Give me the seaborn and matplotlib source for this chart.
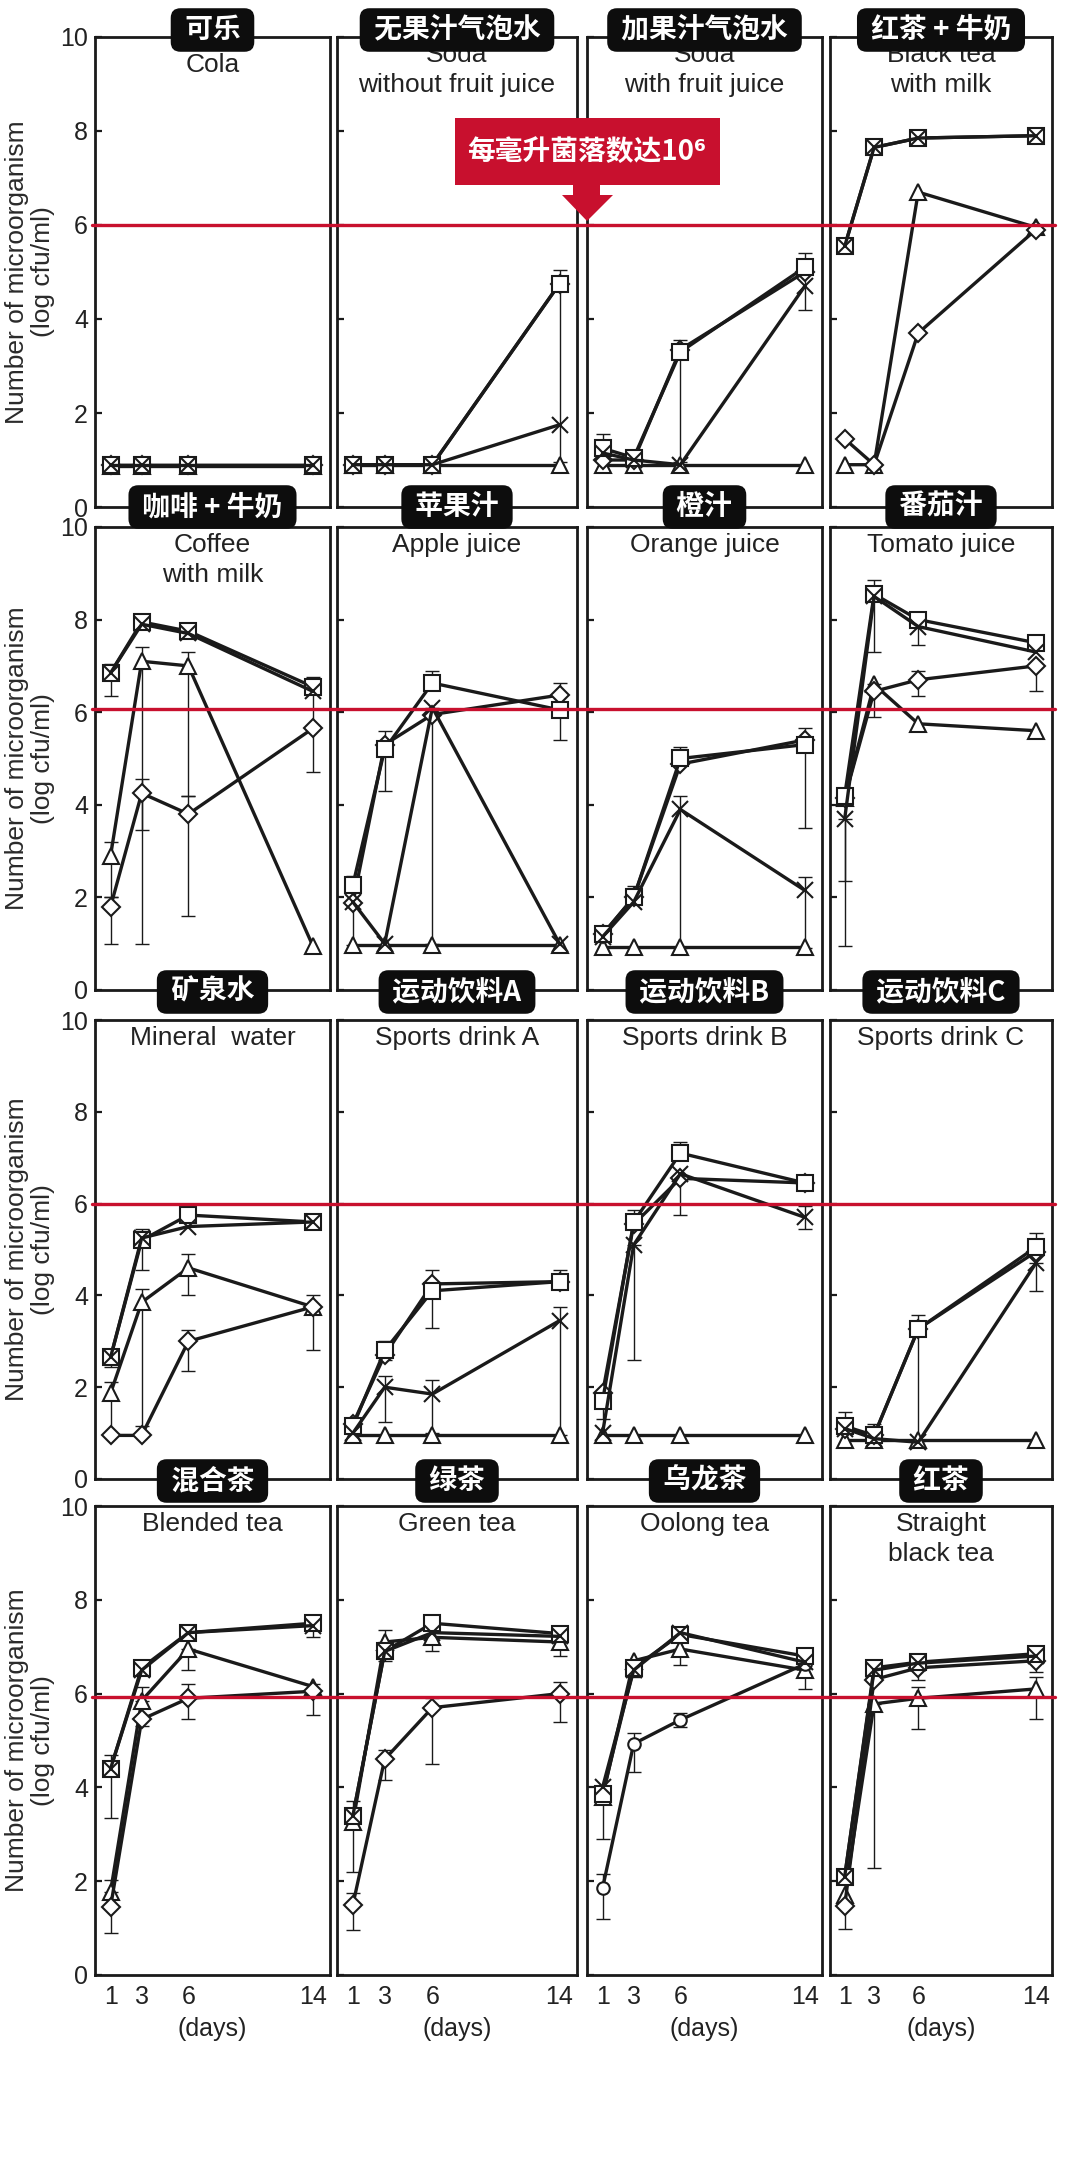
import numpy as np
import pandas as pd
import matplotlib.pyplot as plt
import matplotlib.patches as mpatches
import matplotlib.transforms as mtransforms
import seaborn as sns

# ---- data ----
days = [1, 3, 6, 14]

cn_titles = ['可乐', '无果汁气泡水', '加果汁气泡水', '红茶 + 牛奶',
             '咖啡 + 牛奶', '苹果汁', '橙汁', '番茄汁',
             '矿泉水', '运动饮料A', '运动饮料B', '运动饮料C',
             '混合茶', '绿茶', '乌龙茶', '红茶']
en_titles = ['Cola', 'Soda\nwithout fruit juice', 'Soda\nwith fruit juice', 'Black tea\nwith milk',
             'Coffee\nwith milk', 'Apple juice', 'Orange juice', 'Tomato juice',
             'Mineral  water', 'Sports drink A', 'Sports drink B', 'Sports drink C',
             'Blended tea', 'Green tea', 'Oolong tea', 'Straight\nblack tea']

square_vals = [
    [0.9, 0.9, 0.9, 0.9], [0.9, 0.9, 0.9, 4.75], [1.25, 1.05, 3.3, 5.1], [5.55, 7.65, 7.85, 7.9],
    [6.85, 7.95, 7.75, 6.55], [2.27, 5.2, 6.63, 6.05], [1.2, 2.0, 5.0, 5.3], [4.2, 8.55, 8.0, 7.5],
    [2.65, 5.2, 5.75, 5.6], [1.15, 2.8, 4.1, 4.3], [1.7, 5.6, 7.1, 6.45], [1.15, 0.95, 3.27, 5.05],
    [4.4, 6.55, 7.3, 7.5], [3.4, 6.9, 7.5, 7.28], [3.85, 6.55, 7.26, 6.8], [2.1, 6.55, 6.67, 6.85],
]
diamond_vals = [
    [0.9, 0.9, 0.9, 0.9], [0.9, 0.9, 0.9, 4.75], [1.0, 1.0, 3.35, 5.0], [1.45, 0.9, 3.7, 5.9],
    [1.8, 4.25, 3.8, 5.65], [1.88, 5.3, 5.95, 6.37], [1.2, 2.0, 4.88, 5.4], [4.15, 6.45, 6.7, 7.0],
    [0.95, 0.95, 3.0, 3.75], [1.2, 2.7, 4.25, 4.3], [1.87, 5.55, 6.55, 6.45], [1.1, 0.95, 3.27, 4.95],
    [1.45, 5.45, 5.9, 6.05], [1.5, 4.6, 5.7, 6.0], [1.85, 4.93, 5.44, 6.63], [1.48, 6.3, 6.55, 6.7],
]
triangle_vals = [
    [0.88, 0.88, 0.88, 0.88], [0.9, 0.9, 0.9, 0.9], [0.9, 0.9, 0.9, 0.9], [0.9, 0.9, 6.7, 5.95],
    [2.9, 7.1, 7.0, 0.95], [0.97, 0.97, 0.97, 0.97], [0.92, 0.92, 0.92, 0.92], [4.15, 6.6, 5.75, 5.6],
    [1.87, 3.85, 4.6, 3.75], [0.95, 0.95, 0.95, 0.95], [0.95, 0.95, 0.95, 0.95], [0.85, 0.85, 0.85, 0.85],
    [1.78, 5.85, 6.95, 6.15], [3.26, 7.1, 7.2, 7.1], [3.8, 6.7, 6.95, 6.5], [1.7, 5.78, 5.9, 6.1],
]
cross_vals = [
    [0.9, 0.9, 0.9, 0.9], [0.9, 0.9, 0.9, 1.75], [1.15, 1.0, 0.9, 4.7], [5.55, 7.65, 7.85, 7.9],
    [6.85, 7.9, 7.7, 6.45], [1.9, 1.0, 6.1, 1.0], [1.15, 1.9, 3.9, 2.15], [3.7, 8.5, 7.85, 7.3],
    [2.65, 5.25, 5.5, 5.6], [1.0, 2.0, 1.85, 3.45], [1.0, 5.1, 6.65, 5.7], [1.1, 0.88, 0.8, 4.7],
    [4.4, 6.5, 7.3, 7.45], [3.4, 6.9, 7.3, 7.22], [4.0, 6.5, 7.3, 6.67], [2.1, 6.5, 6.65, 6.8],
]

# (panel, series, day index, below, above)
error_bars = [
    (1, 's', 3, 3.8, 0.3),
    (2, 's', 0, 0.0, 0.3), (2, 'd', 2, 2.4, 0.2), (2, 's', 3, 0.0, 0.3), (2, 'x', 3, 0.5, 0.5),
    (4, 's', 0, 0.5, 0.2), (4, 't', 0, 0.9, 0.3), (4, 'd', 0, 0.8, 0.2), (4, 't', 1, 6.1, 0.3),
    (4, 'd', 1, 0.8, 0.3), (4, 't', 2, 2.8, 0.3), (4, 'd', 2, 2.2, 0.4), (4, 'd', 3, 0.95, 1.0),
    (4, 's', 3, 0.15, 0.2),
    (5, 's', 0, 0.0, 0.2), (5, 'd', 0, 0.9, 0.0), (5, 's', 1, 0.9, 0.4), (5, 'x', 2, 5.1, 0.0),
    (5, 's', 2, 0.0, 0.25), (5, 's', 3, 0.65, 0.0), (5, 'd', 3, 0.0, 0.25),
    (6, 's', 1, 0.0, 0.25), (6, 's', 2, 0.0, 0.25), (6, 'x', 2, 3.0, 0.3), (6, 's', 3, 1.8, 0.35),
    (6, 'x', 3, 1.25, 0.3),
    (7, 's', 0, 1.85, 0.0), (7, 'x', 0, 2.76, 0.0), (7, 's', 1, 1.25, 0.3), (7, 't', 1, 0.7, 0.0),
    (7, 'x', 2, 0.4, 0.3), (7, 'd', 2, 0.35, 0.2), (7, 'd', 3, 0.55, 0.0),
    (8, 's', 0, 0.2, 0.1), (8, 't', 0, 0.9, 0.25), (8, 's', 1, 0.65, 0.25), (8, 't', 1, 2.7, 0.3),
    (8, 't', 2, 0.6, 0.3), (8, 'd', 2, 0.65, 0.25), (8, 't', 3, 0.95, 0.25), (8, 's', 3, 0.15, 0.1),
    (9, 's', 1, 0.2, 0.2), (9, 'x', 1, 0.75, 0.25), (9, 's', 2, 0.8, 0.0), (9, 'd', 2, 0.0, 0.3),
    (9, 'x', 2, 0.85, 0.3), (9, 'x', 3, 2.5, 0.3), (9, 's', 3, 0.0, 0.25),
    (10, 's', 0, 0.4, 0.0), (10, 'x', 1, 2.5, 0.0), (10, 's', 1, 0.0, 0.25), (10, 'd', 2, 0.8, 0.0),
    (10, 's', 2, 0.0, 0.25), (10, 'x', 3, 0.25, 0.25),
    (11, 's', 0, 0.0, 0.3), (11, 's', 1, 0.0, 0.25), (11, 's', 2, 2.45, 0.3), (11, 's', 3, 0.0, 0.3),
    (11, 'x', 3, 0.6, 0.0),
    (12, 's', 0, 1.05, 0.3), (12, 't', 0, 0.0, 0.25), (12, 'd', 0, 0.55, 0.0), (12, 't', 1, 0.0, 0.3),
    (12, 'd', 1, 0.15, 0.0), (12, 't', 2, 0.45, 0.0), (12, 'd', 2, 0.45, 0.3), (12, 's', 3, 0.3, 0.15),
    (12, 'd', 3, 0.5, 0.15),
    (13, 's', 0, 1.2, 0.3), (13, 'd', 0, 0.55, 0.25), (13, 't', 1, 0.0, 0.25), (13, 's', 1, 0.2, 0.0),
    (13, 'd', 1, 0.45, 0.2), (13, 'd', 2, 1.2, 0.2), (13, 't', 2, 0.3, 0.0), (13, 't', 3, 0.3, 0.0),
    (13, 'd', 3, 0.6, 0.25),
    (14, 't', 0, 0.9, 0.0), (14, 'd', 0, 0.65, 0.3), (14, 'd', 1, 0.6, 0.22), (14, 't', 1, 0.35, 0.0),
    (14, 'd', 2, 0.15, 0.15), (14, 't', 2, 0.35, 0.0), (14, 's', 3, 0.7, 0.0),
    (15, 't', 1, 3.5, 0.0), (15, 'd', 0, 0.5, 0.0), (15, 'd', 2, 0.25, 0.0), (15, 't', 2, 0.65, 0.25),
    (15, 't', 3, 0.65, 0.25), (15, 'd', 3, 0.25, 0.0),
]

threshold = [6.0, 6.07, 6.0, 5.93]   # red line per row (log cfu/ml)
callout_text = '每毫升菌落数达10⁶'
circle_panels = [14]                 # oolong tea uses round markers

# ---- style ----
sns.set_theme(style='white')
plt.rcParams['font.family'] = ['Liberation Sans', 'DejaVu Sans']
CJK = ['Noto Sans CJK SC', 'DejaVu Sans']
INK = '#1a1a1a'
RED = '#C8102E'

W, H = 1080, 2160
fig = plt.figure(figsize=(10.8, 21.6), dpi=100)


def fx(x):
    return x / W


def fy(y):
    return 1 - y / H


col_left = [95, 337, 587, 830]
col_w = [235, 240, 235, 222]
row_top = [37, 527, 1020, 1506]
row_h = [470, 463, 459, 469]
tag_gap = [7, 20, 28, 25]

series = {'t': triangle_vals, 'd': diamond_vals, 's': square_vals, 'x': cross_vals}
markers = {'t': '^', 'd': 'D', 's': 's', 'x': 'x'}
msizes = {'t': 12, 'd': 9, 's': 11, 'x': 12}

axes = []
for i in range(16):
    r, c = divmod(i, 4)
    ax = fig.add_axes([fx(col_left[c]), fy(row_top[r] + row_h[r]), col_w[c] / W, row_h[r] / H])
    axes.append(ax)

    for key in ['t', 'd', 's', 'x']:
        m = markers[key]
        if key == 'd' and i in circle_panels:
            m = 'o'
        sns.lineplot(x=days, y=series[key][i], ax=ax, color=INK, linewidth=2.4,
                     marker=m, markersize=msizes[key], markerfacecolor='white',
                     markeredgecolor=INK, markeredgewidth=1.5, errorbar=None,
                     legend=False, zorder=3)

    for (p, key, j, lo, hi) in error_bars:
        if p != i:
            continue
        v = series[key][i][j]
        ax.errorbar([days[j]], [v], yerr=[[lo], [hi]], fmt='none', ecolor=INK,
                    elinewidth=1.0, capsize=5, capthick=1.0, zorder=2)

    ax.set_xlim(0.0, 15.1)
    ax.set_ylim(0, 10)
    ax.set_xticks(days)
    ax.set_yticks([0, 2, 4, 6, 8, 10])
    ax.set_xlabel('')
    ax.set_ylabel('')
    for sp in ax.spines.values():
        sp.set_visible(True)
        sp.set_linewidth(2.0)
        sp.set_color(INK)
    ax.tick_params(axis='y', direction='in', length=5, width=1.6, color=INK,
                   labelsize=18, labelcolor='#222', pad=5, left=True)
    ax.tick_params(axis='x', length=0, labelsize=18, labelcolor='#222', pad=7)
    if c != 0:
        ax.set_yticklabels([])
    else:
        ax.set_ylabel('Number of microorganism\n(log cfu/ml)', fontsize=19,
                      color='#2a2a2a', labelpad=4, linespacing=1.1)
    if r != 3:
        ax.set_xticklabels([])
    else:
        ax.set_xlabel('(days)', fontsize=18, color='#222', labelpad=6)

    # english name inside the panel (cola sits a little lower, clear of its tag)
    off = 16 if i == 0 else 6
    ax.text(0.5, 1 - off / row_h[r], en_titles[i], transform=ax.transAxes,
            ha='center', va='top', fontsize=19, color='#222',
            linespacing=1.3, zorder=4)

    # chinese tag on the frame
    cx = col_left[c] + col_w[c] / 2
    fig.text(fx(cx), fy(row_top[r] - tag_gap[r]), f' {cn_titles[i]} ', ha='center', va='center',
             color='white', fontsize=20, fontweight='bold', family=CJK, zorder=8,
             bbox=dict(boxstyle='round,pad=0.28,rounding_size=0.35', fc='#0d0d0d', ec='none'))

# red threshold line across each row
for r in range(4):
    trans = mtransforms.blended_transform_factory(fig.transFigure, axes[r * 4].transData)
    fig.add_artist(plt.Line2D([fx(92), fx(1055)], [threshold[r], threshold[r]],
                              transform=trans, color=RED, linewidth=2.4, zorder=6))

# callout box with arrow
fig.add_artist(mpatches.Rectangle((fx(455), fy(185)), (720 - 455) / W, (185 - 118) / H,
                                  transform=fig.transFigure, facecolor=RED, edgecolor='none',
                                  zorder=7))
arrow_pts = [(573, 184), (600, 184), (600, 195), (613, 195), (587, 221), (562, 195), (573, 195)]
fig.add_artist(mpatches.Polygon([(fx(x), fy(y)) for x, y in arrow_pts], closed=True,
                                transform=fig.transFigure, facecolor=RED, edgecolor='none',
                                zorder=7))
fig.text(fx(587), fy(152), callout_text, ha='center', va='center', color='white',
         fontsize=20, fontweight='bold', family=CJK, zorder=8)

fig.savefig('out.png', dpi=100, facecolor='white')
